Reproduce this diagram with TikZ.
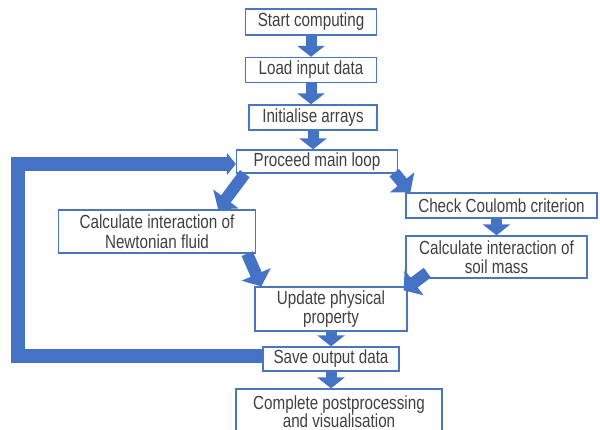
\documentclass[tikz,border=0pt]{standalone}
\usepackage{fontspec}
\setmainfont{Liberation Sans}[FakeStretch=0.8]
\usetikzlibrary{arrows.meta,calc}
\definecolor{arrowblue}{HTML}{4472C4}
\definecolor{boxblue}{HTML}{4A76BE}
\definecolor{txt}{HTML}{404040}
\begin{document}
\begin{tikzpicture}[x=1pt,y=-1pt,
  box/.style={draw=boxblue, line width=1.3pt, fill=white, text=txt, inner sep=0pt,
    align=center, font=\fontsize{19}{19.5}\selectfont},
  flow/.style={draw=arrowblue, line width=11pt, line cap=butt,
    -{Triangle[length=11pt,width=27pt]}},
  diag/.style={draw=arrowblue, line width=12pt, line cap=butt,
    -{Triangle[length=13pt,width=31pt]}},
  back/.style={draw=arrowblue, line width=14pt, line cap=butt, line join=miter,
    -{Triangle[length=9pt,width=22pt]}}
]
\useasboundingbox (0,0) rectangle (600,430);
\fill[white] (0,0) rectangle (600,430);

\node[box, minimum width=131pt, minimum height=26pt] (start) at (311,22) {Start computing};
\node[box, minimum width=131pt, minimum height=25pt] (load) at (311,70) {Load input data};
\node[box, minimum width=128pt, minimum height=25pt] (init) at (313,117.5) {Initialise arrays};
\node[box, minimum width=161pt, minimum height=23pt] (loop) at (317,161.5) {Proceed main loop};
\node[box, minimum width=197pt, minimum height=43pt] (newton) at (157,231.5) {Calculate interaction of\\Newtonian fluid};
\node[box, minimum width=191pt, minimum height=25pt] (check) at (501.5,205.5) {Check Coulomb criterion};
\node[box, minimum width=181pt, minimum height=42pt] (soil) at (496.5,257) {Calculate interaction of\\soil mass};
\node[box, minimum width=152pt, minimum height=44pt] (update) at (331,309) {Update physical\\property};
\node[box, minimum width=136pt, minimum height=24pt] (save) at (331,359) {Save output data};
\node[box, minimum width=206pt, minimum height=45pt, font=\fontsize{19}{18}\selectfont] (post) at (339,411.5) {Complete postprocessing\\and visualisation};

\coordinate (lc) at (18,0);
\coordinate (b1) at ($(save.west)+(0,-2.5)$);
\coordinate (t1) at ($(loop.west)+(0,2.5)$);

\draw[flow] (start.south) -- (load.north -| start.south);
\draw[flow] (load.south) -- (init.north -| load.south);
\draw[flow] (init.south) -- (loop.north -| init.south);
\draw[diag] ($(loop.south west)+(9,0)$) -- ($(newton.north east)+(-38,0)$);
\draw[diag] ($(loop.south east)+(-4,-1)$) -- ($(check.north west)+(5,0)$);
\draw[flow] (check.south -| soil.north) -- (soil.north);
\draw[diag] ($(newton.south east)+(-9,0)$) -- ($(update.north west)+(7,0)$);
\draw[diag] ($(soil.south west)+(22,-6)$) -- ($(update.north east)+(-4,4)$);
\draw[flow] (update.south) -- (save.north);
\draw[flow] (save.south) -- (post.north -| save.south);
\draw[back] (b1) -- (b1 -| lc) -- (t1 -| lc) -- (t1);
\end{tikzpicture}
\end{document}
